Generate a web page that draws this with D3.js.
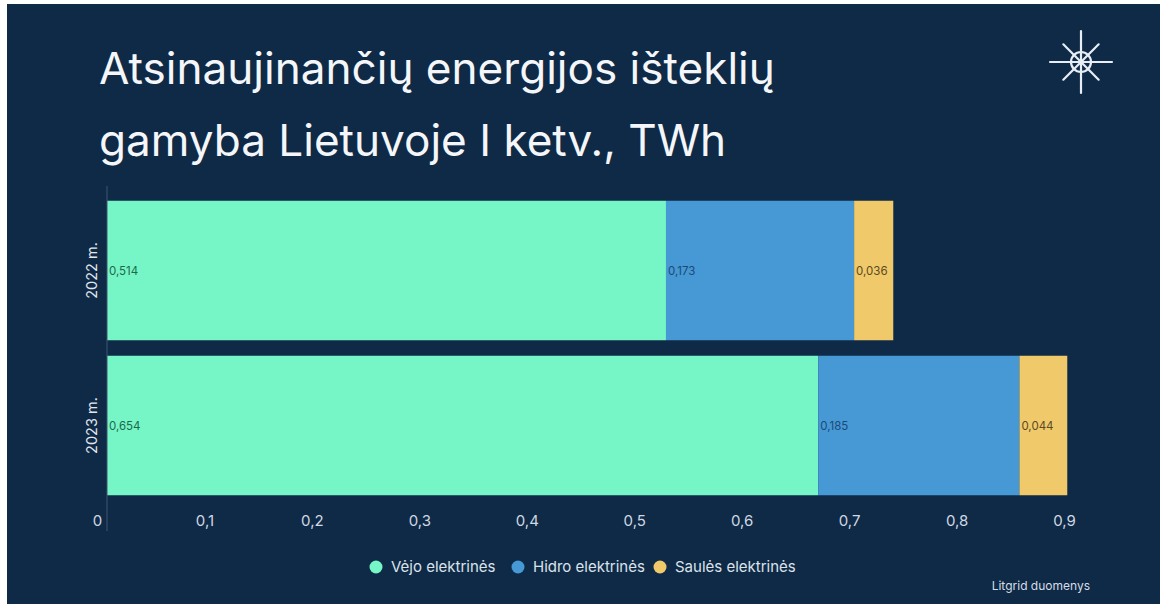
<!DOCTYPE html>
<html><head><meta charset="utf-8">
<script src="https://cdn.jsdelivr.net/npm/d3@7"></script>
<style>
html,body{margin:0;padding:0;background:#fff;}
svg{display:block;}
text{font-family:Inter,"Noto Sans",sans-serif;}
</style></head>
<body>
<svg id="c" width="1160" height="604"></svg>
<script>
const categories = ["2022 m.", "2023 m."];
const seriesNames = ["Vėjo elektrinės", "Hidro elektrinės", "Saulės elektrinės"];
const windValues = [0.514, 0.654];
const hydroValues = [0.173, 0.185];
const solarValues = [0.036, 0.044];
const tickValues = [0, 0.1, 0.2, 0.3, 0.4, 0.5, 0.6, 0.7, 0.8, 0.9];
const titleLines = ["Atsinaujinančių energijos išteklių", "gamyba Lietuvoje I ketv., TWh"];
const sourceText = "Litgrid duomenys";

const colors = ["#76f5c7", "#4699d4", "#efc96a"];
const labelColors = ["#1b6a4c", "#1b4a78", "#5b4a22"];
const bg = "#0f2a47";

const svg = d3.select("#c");
svg.append("rect").attr("width",1160).attr("height",604).attr("fill","#ffffff");
svg.append("rect").attr("x",7).attr("y",4).attr("width",1153).attr("height",600).attr("fill",bg);

const loc = d3.formatLocale({decimal:",", thousands:" ", grouping:[3], currency:["","€"]});
const fmt3 = loc.format(".3f");
const fmtTick = v => v === 0 ? "0" : loc.format(".1f")(v);

// title
const title = svg.append("g");
titleLines.forEach((t,i)=>{
  title.append("text").attr("x",99).attr("y",84 + i*72)
    .attr("fill","#f4f6f9").attr("font-size",46).attr("font-weight",400)
    .text(t);
});
const first = title.select("text").node();
const w = first.getComputedTextLength();
const fs = 46 * 676 / w;
title.selectAll("text").attr("font-size", fs);

// icon
const icon = svg.append("g").attr("transform","translate(1081,62)")
  .attr("stroke","#e8eef5").attr("stroke-width",2.2).attr("fill","none").attr("stroke-linecap","round");
[0,45,90,135].forEach(a=>{
  const r = a % 90 === 0 ? 31 : 25;
  const rad = a*Math.PI/180;
  icon.append("line").attr("x1",-r*Math.cos(rad)).attr("y1",-r*Math.sin(rad))
    .attr("x2",r*Math.cos(rad)).attr("y2",r*Math.sin(rad));
});
icon.append("circle").attr("r",10);
icon.append("circle").attr("r",1.8).attr("fill","#e8eef5").attr("stroke","none");

// scales
const x = d3.scaleLinear().domain([0,0.9]).range([107, 1085.75]);
const xLabel = d3.scaleLinear().domain([0,0.9]).range([97, 1064]);
const y = d3.scaleBand().domain(categories).range([193, 503]).paddingInner(0.1).paddingOuter(0.05);

const table = categories.map((c,i)=>({cat:c, v:[windValues[i], hydroValues[i], solarValues[i]]}));
const stack = [];
table.forEach(row=>{
  let acc = 0;
  row.v.forEach((v,j)=>{ stack.push({cat:row.cat, s:j, x0:acc, x1:acc+v, v:v}); acc += v; });
});

svg.append("g").selectAll("rect").data(stack).join("rect")
  .attr("x", d=>x(d.x0)).attr("width", d=>x(d.x1)-x(d.x0))
  .attr("y", d=>y(d.cat)).attr("height", y.bandwidth())
  .attr("fill", d=>colors[d.s]);

svg.append("g").selectAll("text").data(stack).join("text")
  .attr("x", d=>x(d.x0)+2).attr("y", d=>y(d.cat)+y.bandwidth()/2)
  .attr("dy","0.35em").attr("font-size",11.5).attr("fill", d=>labelColors[d.s])
  .text(d=>fmt3(d.v));

// y axis line
svg.append("line").attr("x1",x(0)).attr("x2",x(0)).attr("y1",186).attr("y2",531)
  .attr("stroke","#3e5671").attr("stroke-width",1);

// y labels
const yAxis = svg.append("g").attr("transform",`translate(${x(0)-10},0)`)
  .call(d3.axisLeft(y).tickSize(0).tickPadding(0));
yAxis.select(".domain").remove();
yAxis.selectAll(".tick").attr("transform", null);
yAxis.selectAll("text").attr("transform","rotate(-90)")
  .attr("x", function(d){ return -(y(d)+y.bandwidth()/2); })
  .attr("y", 0).attr("dy","0").attr("text-anchor","middle")
  .attr("font-size",14.5).attr("fill","#e2e7ee").attr("font-family","Inter,sans-serif");

// x axis
const xAxis = svg.append("g").attr("transform","translate(0,509)")
  .call(d3.axisBottom(xLabel).tickValues(tickValues).tickFormat(fmtTick).tickSize(0).tickPadding(6));
xAxis.select(".domain").remove();
xAxis.selectAll("text").attr("font-size",15).attr("fill","#d0d8e2").attr("font-family","Inter,sans-serif");

// legend
const legendX = [376, 518, 660];
const lg = svg.append("g");
seriesNames.forEach((n,i)=>{
  lg.append("circle").attr("cx",legendX[i]).attr("cy",567).attr("r",6.5).attr("fill",colors[i]);
  lg.append("text").attr("x",legendX[i]+15).attr("y",567).attr("dy","0.35em")
    .attr("font-size",15).attr("fill","#dce2ea").text(n);
});

svg.append("text").attr("x",1090).attr("y",590).attr("text-anchor","end")
  .attr("font-size",12).attr("fill","#d6dde6").text(sourceText);
</script>
</body></html>
